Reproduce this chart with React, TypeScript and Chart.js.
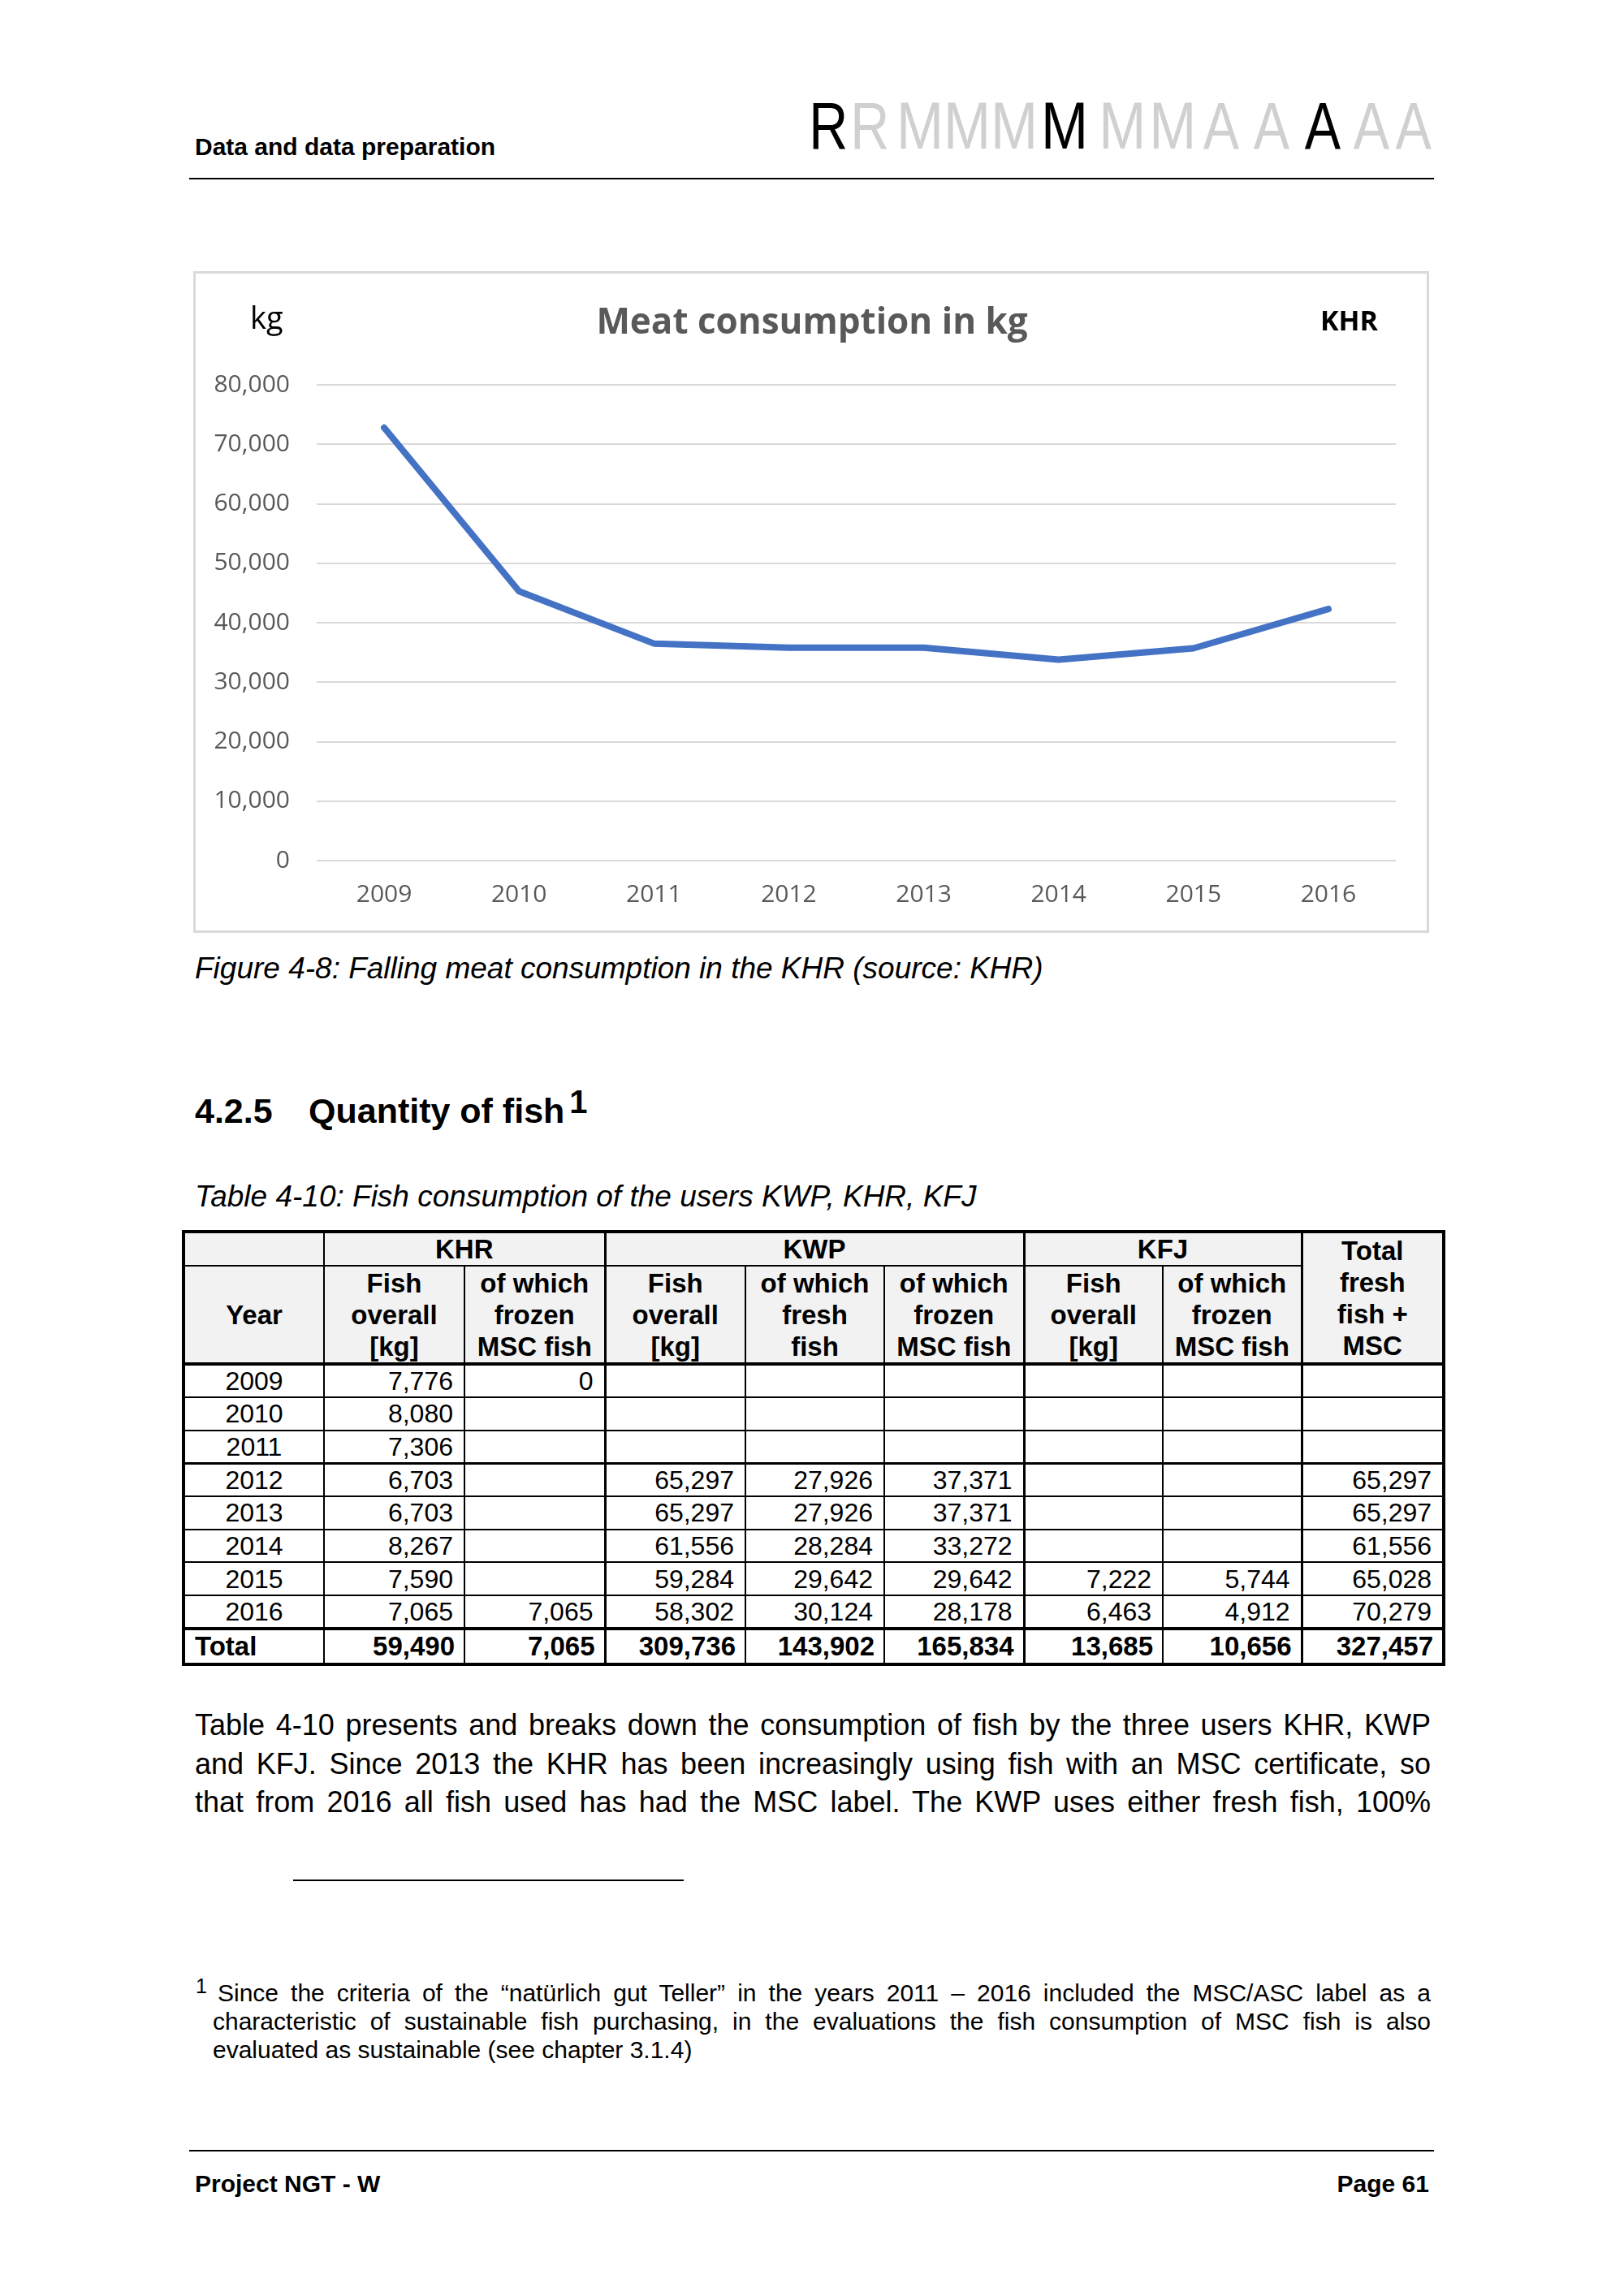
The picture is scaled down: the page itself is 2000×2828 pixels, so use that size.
import React, { useEffect, useRef } from "react";
import { Chart, registerables } from "chart.js";

Chart.register(...registerables);

// ---------- Chart data ----------
const chartYears = ["2009", "2010", "2011", "2012", "2013", "2014", "2015", "2016"];
const meatConsumptionKg = [72800, 45300, 36500, 35800, 35800, 33800, 35700, 42300];
const yMin = 0;
const yMax = 80000;
const yStep = 10000;

// ---------- Table data ----------
const tableYears = ["2009", "2010", "2011", "2012", "2013", "2014", "2015", "2016"];
const khrFishOverall = [7776, 8080, 7306, 6703, 6703, 8267, 7590, 7065];
const khrFrozenMsc = [0, null, null, null, null, null, null, 7065];
const kwpFishOverall = [null, null, null, 65297, 65297, 61556, 59284, 58302];
const kwpFreshFish = [null, null, null, 27926, 27926, 28284, 29642, 30124];
const kwpFrozenMsc = [null, null, null, 37371, 37371, 33272, 29642, 28178];
const kfjFishOverall = [null, null, null, null, null, null, 7222, 6463];
const kfjFrozenMsc = [null, null, null, null, null, null, 5744, 4912];
const totalFreshMsc = [null, null, null, 65297, 65297, 61556, 65028, 70279];
const totalsRow = [59490, 7065, 309736, 143902, 165834, 13685, 10656, 327457];
const groupHeaders = ["KHR", "KWP", "KFJ"];
const groupSpans = [2, 3, 2];
const subHeaders = [
  "Fish\noverall\n[kg]",
  "of which\nfrozen\nMSC fish",
  "Fish\noverall\n[kg]",
  "of which\nfresh\nfish",
  "of which\nfrozen\nMSC fish",
  "Fish\noverall\n[kg]",
  "of which\nfrozen\nMSC fish",
];
const totalHeader = "Total\nfresh\nfish +\nMSC";

const bodyLines = [
  "Table 4-10 presents and breaks down the consumption of fish by the three users KHR, KWP",
  "and KFJ. Since 2013 the KHR has been increasingly using fish with an MSC certificate, so",
  "that from 2016 all fish used has had the MSC label. The KWP uses either fresh fish, 100%",
];
const footLines = [
  "Since the criteria of the \u201cnat\u00fcrlich gut Teller\u201d in the years 2011 \u2013 2016 included the MSC/ASC label as a",
  "characteristic of sustainable fish purchasing, in the evaluations the fish consumption of MSC fish is also",
  "evaluated as sustainable (see chapter 3.1.4)",
];

const SANS = "'Liberation Sans', Arial, Helvetica, sans-serif";
const CHARTFONT = "'Open Sans', 'Noto Sans', sans-serif";

const fmt = (v: number | null) => (v === null || v === undefined ? "" : v.toLocaleString("en-US"));

function MeatChart() {
  const ref = useRef<HTMLCanvasElement | null>(null);
  useEffect(() => {
    let chart: Chart | null = null;
    let cancelled = false;
    const make = () => {
      if (cancelled || !ref.current) return;
      chart = new Chart(ref.current, {
        type: "line",
        data: {
          labels: chartYears,
          datasets: [
            {
              data: meatConsumptionKg,
              borderColor: "#4472C4",
              backgroundColor: "#4472C4",
              borderWidth: 8,
              pointRadius: 0,
              tension: 0,
              fill: false,
              borderCapStyle: "round",
              borderJoinStyle: "round",
            },
          ],
        },
        options: {
          animation: false,
          responsive: false,
          devicePixelRatio: 1,
          layout: { padding: { top: 138, right: 39, left: 0, bottom: 0 } },
          plugins: {
            legend: { display: false },
            tooltip: { enabled: false },
            title: { display: false },
          },
          scales: {
            x: {
              offset: true,
              grid: { display: false, drawTicks: false },
              border: { display: false },
              ticks: {
                color: "#595959",
                font: { family: CHARTFONT, size: 30 },
                padding: 24,
                maxRotation: 0,
                autoSkip: false,
              },
              afterFit: (s: any) => {
                s.height = 87;
              },
            },
            y: {
              min: yMin,
              max: yMax,
              grid: { color: "#d9d9d9", lineWidth: 2, drawTicks: false },
              border: { display: false },
              ticks: {
                stepSize: yStep,
                color: "#595959",
                font: { family: CHARTFONT, size: 30 },
                padding: 33,
                callback: (v: any) => Number(v).toLocaleString("en-US"),
              },
              afterFit: (s: any) => {
                s.width = 148;
              },
            },
          },
        },
      } as any);
    };
    if ((document as any).fonts && (document as any).fonts.ready) {
      (document as any).fonts.ready.then(make);
    } else {
      make();
    }
    return () => {
      cancelled = true;
      if (chart) chart.destroy();
    };
  }, []);
  return (
    <canvas
      ref={ref}
      width={1516}
      height={811}
      style={{ position: "absolute", left: 242, top: 336, width: 1516, height: 811 }}
    />
  );
}

const thin = "2px solid #000";
const thick = "3px solid #000";
const outer = "4px solid #000";

// vertical border after column index (0 = Year)
const rightBorder = (ci: number) => {
  if (ci === 8) return outer;
  if (ci === 2 || ci === 5 || ci === 7) return thick;
  return thin;
};

function FishTable() {
  const colW = [173, 173, 173, 173, 171, 172, 171, 171, 175];
  const headBg = "#f2f2f2";
  const rows = tableYears.map((y, i) => [
    khrFishOverall[i],
    khrFrozenMsc[i],
    kwpFishOverall[i],
    kwpFreshFish[i],
    kwpFrozenMsc[i],
    kfjFishOverall[i],
    kfjFrozenMsc[i],
    totalFreshMsc[i],
  ]);
  const baseCell: React.CSSProperties = {
    padding: 0,
    fontFamily: SANS,
    fontSize: 32,
    color: "#000",
    overflow: "hidden",
  };
  const headCell = (ci: number, extra: React.CSSProperties = {}): React.CSSProperties => ({
    ...baseCell,
    background: headBg,
    fontWeight: "bold",
    fontSize: 33,
    textAlign: "center",
    verticalAlign: "middle",
    lineHeight: "39px",
    whiteSpace: "pre-line",
    borderLeft: ci === 0 ? outer : undefined,
    borderRight: rightBorder(ci),
    ...extra,
  });
  let colStart = 1;
  return (
    <table
      style={{
        position: "absolute",
        left: 224,
        top: 1515,
        width: 1552,
        borderCollapse: "collapse",
        tableLayout: "fixed",
        borderSpacing: 0,
      }}
    >
      <colgroup>
        {colW.map((w, i) => (
          <col key={i} style={{ width: w }} />
        ))}
      </colgroup>
      <tbody>
        <tr style={{ height: 41 }}>
          <td style={headCell(0, { borderTop: outer, borderBottom: thin })}></td>
          {groupHeaders.map((g, gi) => {
            const start = colStart;
            colStart += groupSpans[gi];
            return (
              <td
                key={g}
                colSpan={groupSpans[gi]}
                style={headCell(start + groupSpans[gi] - 1, { borderTop: outer, borderBottom: thin })}
              >
                {g}
              </td>
            );
          })}
          <td rowSpan={2} style={headCell(8, { borderTop: outer, borderBottom: outer })}>
            {totalHeader}
          </td>
        </tr>
        <tr style={{ height: 121 }}>
          <td style={headCell(0, { borderBottom: outer })}>Year</td>
          {subHeaders.map((h, i) => (
            <td key={i} style={headCell(i + 1, { borderBottom: outer })}>
              {h}
            </td>
          ))}
        </tr>
        {rows.map((r, ri) => (
          <tr key={ri} style={{ height: 40.7 }}>
            <td
              style={{
                ...baseCell,
                textAlign: "center",
                lineHeight: "38px",
                borderLeft: outer,
                borderRight: rightBorder(0),
                borderBottom: ri === 2 ? thick : ri === 7 ? outer : thin,
              }}
            >
              {tableYears[ri]}
            </td>
            {r.map((v, ci) => (
              <td
                key={ci}
                style={{
                  ...baseCell,
                  textAlign: "right",
                  paddingRight: 13,
                  lineHeight: "38px",
                  borderRight: rightBorder(ci + 1),
                  borderBottom: ri === 2 ? thick : ri === 7 ? outer : thin,
                }}
              >
                {fmt(v as any)}
              </td>
            ))}
          </tr>
        ))}
        <tr style={{ height: 44 }}>
          <td
            style={{
              ...baseCell,
              fontWeight: "bold",
              fontSize: 33,
              textAlign: "left",
              paddingLeft: 12,
              lineHeight: "40px",
              borderLeft: outer,
              borderRight: rightBorder(0),
              borderBottom: outer,
            }}
          >
            Total
          </td>
          {totalsRow.map((v, ci) => (
            <td
              key={ci}
              style={{
                ...baseCell,
                fontWeight: "bold",
                fontSize: 33,
                textAlign: "right",
                paddingRight: 11,
                lineHeight: "40px",
                borderRight: rightBorder(ci + 1),
                borderBottom: outer,
              }}
            >
              {fmt(v)}
            </td>
          ))}
        </tr>
      </tbody>
    </table>
  );
}

function Logo() {
  const letters: { ch: string; dark: boolean; left: number; w: number }[] = [
    { ch: "R", dark: true, left: 992, w: 48 },
    { ch: "R", dark: false, left: 1042, w: 58 },
    { ch: "M", dark: false, left: 1100, w: 58 },
    { ch: "M", dark: false, left: 1158, w: 58 },
    { ch: "M", dark: false, left: 1216, w: 58 },
    { ch: "M", dark: true, left: 1276, w: 70 },
    { ch: "M", dark: false, left: 1349, w: 62 },
    { ch: "M", dark: false, left: 1411, w: 62 },
    { ch: "A", dark: false, left: 1473, w: 62 },
    { ch: "A", dark: false, left: 1535, w: 62 },
    { ch: "A", dark: true, left: 1598, w: 62 },
    { ch: "A", dark: false, left: 1662, w: 52 },
    { ch: "A", dark: false, left: 1714, w: 50 },
  ];
  return (
    <>
      {letters.map((l, i) => (
        <div
          key={i}
          style={{
            position: "absolute",
            left: l.left,
            top: 115,
            width: l.w,
            textAlign: "center",
            fontFamily: SANS,
            fontSize: 81,
            lineHeight: "81px",
            color: l.dark ? "#000" : "#d0d0d0",
            transform: l.ch === "R" || l.ch === "A" ? "scaleX(0.82)" : "scaleX(0.86)",
            transformOrigin: "center",
            overflow: "visible",
            whiteSpace: "nowrap",
          }}
        >
          {l.ch}
        </div>
      ))}
    </>
  );
}

const abs = (left: number, top: number, fontSize: number, extra: React.CSSProperties = {}): React.CSSProperties => ({
  position: "absolute",
  left,
  top,
  fontFamily: SANS,
  fontSize,
  lineHeight: `${fontSize}px`,
  color: "#000",
  whiteSpace: "nowrap",
  ...extra,
});

export default function App() {
  return (
    <div
      style={{
        position: "absolute",
        left: 0,
        top: 0,
        width: 2000,
        height: 2828,
        background: "#fff",
        overflow: "hidden",
      }}
    >
      {/* Header */}
      <div style={abs(240, 166, 30, { fontWeight: "bold" })}>Data and data preparation</div>
      <Logo />
      <div style={{ position: "absolute", left: 233, top: 219, width: 1533, height: 2, background: "#000" }} />

      {/* Chart box */}
      <div
        style={{
          position: "absolute",
          left: 238,
          top: 334,
          width: 1522,
          height: 815,
          border: "3px solid #d9d9d9",
          boxSizing: "border-box",
        }}
      />
      <MeatChart />
      <div style={abs(308, 371, 38, { fontFamily: CHARTFONT, color: "#000" })}>kg</div>
      <div
        style={abs(600, 372, 44, {
          fontFamily: CHARTFONT,
          fontWeight: "bold",
          color: "#595959",
          width: 800,
          textAlign: "center",
        })}
      >
        Meat consumption in kg
      </div>
      <div style={abs(1626, 377, 34, { fontFamily: CHARTFONT, fontWeight: "bold", color: "#000" })}>KHR</div>

      {/* Caption */}
      <div style={abs(240, 1174, 37, { fontStyle: "italic" })}>
        Figure 4-8: Falling meat consumption in the KHR (source: KHR)
      </div>

      {/* Heading */}
      <div style={abs(240, 1347, 43, { fontWeight: "bold" })}>4.2.5</div>
      <div style={abs(380, 1347, 43, { fontWeight: "bold" })}>
        Quantity of fish
        <span style={{ position: "relative", top: -12, fontSize: 40, marginLeft: 6 }}>1</span>
      </div>

      {/* Table caption */}
      <div style={abs(240, 1455, 37, { fontStyle: "italic" })}>
        Table 4-10: Fish consumption of the users KWP, KHR, KFJ
      </div>

      <FishTable />

      {/* Body text */}
      {bodyLines.map((t, i) => (
        <div
          key={i}
          style={abs(240, 2107 + i * 47.5, 36, {
            width: 1522,
            textAlign: "justify",
            textAlignLast: "justify",
            whiteSpace: "normal",
          } as any)}
        >
          {t}
        </div>
      ))}

      {/* Footnote rule */}
      <div style={{ position: "absolute", left: 361, top: 2315, width: 481, height: 2, background: "#000" }} />

      {/* Footnote */}
      <div style={abs(241, 2434, 25)}>1</div>
      {footLines.map((t, i) => (
        <div
          key={i}
          style={abs(i === 0 ? 268 : 262, 2440 + i * 35, 30, {
            width: i === 0 ? 1494 : 1500,
            textAlign: i < 2 ? "justify" : "left",
            textAlignLast: i < 2 ? "justify" : "auto",
            whiteSpace: "normal",
          } as any)}
        >
          {t}
        </div>
      ))}

      {/* Footer */}
      <div style={{ position: "absolute", left: 233, top: 2648, width: 1533, height: 2, background: "#000" }} />
      <div style={abs(240, 2675, 30, { fontWeight: "bold" })}>Project NGT - W</div>
      <div style={abs(1460, 2675, 30, { fontWeight: "bold", width: 300, textAlign: "right" })}>Page 61</div>
    </div>
  );
}
